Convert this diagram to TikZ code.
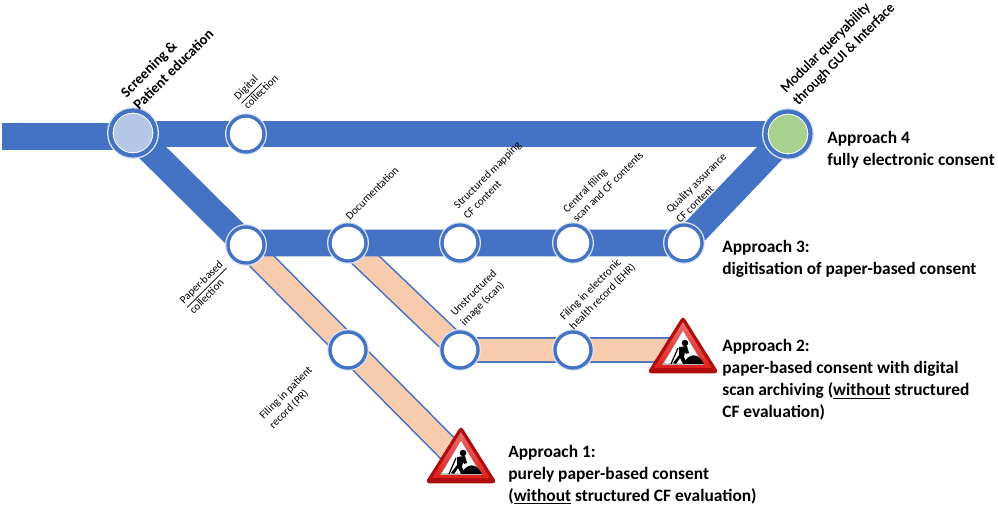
\documentclass[tikz,border=0pt]{standalone}
\usepackage{fontspec}
\setmainfont{Carlito}
\newfontface\semibold[FakeBold=0.5]{Carlito}
\usetikzlibrary{positioning, backgrounds}
\definecolor{bandblue}{HTML}{4472C4}
\definecolor{bandorange}{HTML}{F8CBAD}
\definecolor{halo}{HTML}{DCE6F5}
\definecolor{hubblue}{HTML}{B4C7E7}
\definecolor{hubgreen}{HTML}{A9D18E}
\definecolor{signred}{HTML}{E0201C}
\definecolor{signdark}{HTML}{B00E0E}

\begin{document}
\begin{tikzpicture}[x=0.02cm, y=-0.02cm]
	\tikzset{
		blueband/.style={line width=15.3pt, bandblue},
		orangeedge/.style={line width=14.6pt, bandblue},
		orangeband/.style={line width=12.8pt, bandorange},
		halted/.style={circle, draw=bandblue, fill=white, line width=1.9pt, minimum size=0.72cm, inner sep=0pt,
			preaction={draw=halo, line width=3.4pt}},
		hub/.style={circle, draw=bandblue, fill=white, line width=2.4pt, minimum size=0.9cm, inner sep=0pt,
			preaction={draw=halo, line width=4pt},
			path picture={\fill[#1] (path picture bounding box.center) circle (0.385cm);}},
		smalltext/.style={rotate=45, align=left, font=\fontsize{6.3}{7.8}\selectfont, inner sep=0pt},
		bigtext/.style={rotate=45, align=left, font=\semibold\fontsize{8}{10}\selectfont, inner sep=0pt},
		approach/.style={anchor=west, align=left, font=\fontsize{9.9}{12.5}\selectfont\bfseries, inner sep=0pt},
		pics/roadwork/.style={code={
			\filldraw[signdark, line width=2.6pt, line join=round] (0,4) -- (32,55) -- (-32,55) -- cycle;
			\shade[top color=signred!65!white, bottom color=signred] (0,6) -- (29,52) -- (-29,52) -- cycle;
			\fill[black!30] (0,15) -- (21,49) -- (-21,49) -- cycle;
			\fill[white] (0,15) -- (19,47.5) -- (-19,47.5) -- cycle;
			\fill[black] (2,27) circle (3.3);
			\fill[black] (0,48) .. controls (6,37) and (15,36) .. (21,48) -- cycle;
			\fill[black] (-4,31) -- (4,30) -- (6,37) -- (3,38) -- (2,36) -- (1,41) -- (4,48) -- (0,48) -- (-3,42) -- (-7,48) -- (-10,47) -- (-4,39) -- cycle;
			\draw[black, line width=0.7pt] (-5,32) -- (-12,48);
		}}
	}
	\useasboundingbox (0,0) rectangle (998,509);

	\coordinate (start) at (2,136.5);
	\node[hub=hubblue] (screen) at (133,133) {};
	\node[hub=hubgreen] (modular) at (788,134) {};
	\foreach \name/\x/\y in {digital/246/134, paper/246/245, docu/348/243, struct/460/243, central/573/243,
		quality/684/243, patient/348/350, image/460/350, ehr/573/350} {
		\node[halted] (\name) at (\x, \y) {};
	}
	\coordinate (warnA) at (461,462);
	\coordinate (warnB) at (683,350);

	\begin{pgfonlayer}{background}
		\draw[orangeedge] (paper.center) -- (warnA);
		\draw[orangeedge] (docu.center) -- (image.center) -- (warnB);
		\draw[orangeband] (paper.center) -- (warnA);
		\draw[orangeband] (docu.center) -- (image.center) -- (warnB);
		\draw[blueband] (start) -- (start -| screen.center);
		\draw[blueband] (screen.center) -- (paper.center);
		\draw[blueband] (screen.center |- digital.center) -- (modular.center |- digital.center);
		\draw[blueband] (paper.center |- docu.center) -- (quality.center) -- (modular.center);
	\end{pgfonlayer}

	\pic at (461,426) {roadwork};
	\pic at (683,316) {roadwork};

	\node[bigtext, font=\fontsize{8.3}{10}\selectfont\bfseries] (lscreen) at (167,63) {Screening \&\\Patient education};
	\node[bigtext] (lmodular) at (838,48) {Modular queryability\\through GUI \& Interface};
	\node[smalltext] (ldigital) at (256,87) {\underline{Digital}\\collection};
	\node[smalltext] (ldocu) at (372,193) {Documentation};
	\node[smalltext] (lstruct) at (492,180) {Structured mapping\\CF content};
	\node[smalltext] (lcentral) at (603,182) {Central filing\\scan and CF contents};
	\node[smalltext] (lquality) at (701,188) {Quality assurance\\CF content};
	\node[smalltext] (lpaper) at (206,287) {\underline{Paper-based}\\collection};
	\node[smalltext] (lpatient) at (291,398) {Filing in patient\\record (PR)};
	\node[smalltext] (limage) at (479,298) {Unstructured\\image (scan)};
	\node[smalltext] (lehr) at (598,292) {Filing in electronic\\health record (EHR)};

	\node[approach] (appfour) at (827,150) {Approach 4\\fully electronic consent};
	\node[approach] (appthree) at (722,259) {Approach 3:\\digitisation of paper-based consent};
	\node[approach] (apptwo) at (722,380) {Approach 2:\\paper-based consent with digital\\scan archiving (\underline{without} structured\\CF evaluation)};
	\node[approach] (appone) at (508,475) {Approach 1:\\purely paper-based consent\\(\underline{without} structured CF evaluation)};
\end{tikzpicture}
\end{document}
